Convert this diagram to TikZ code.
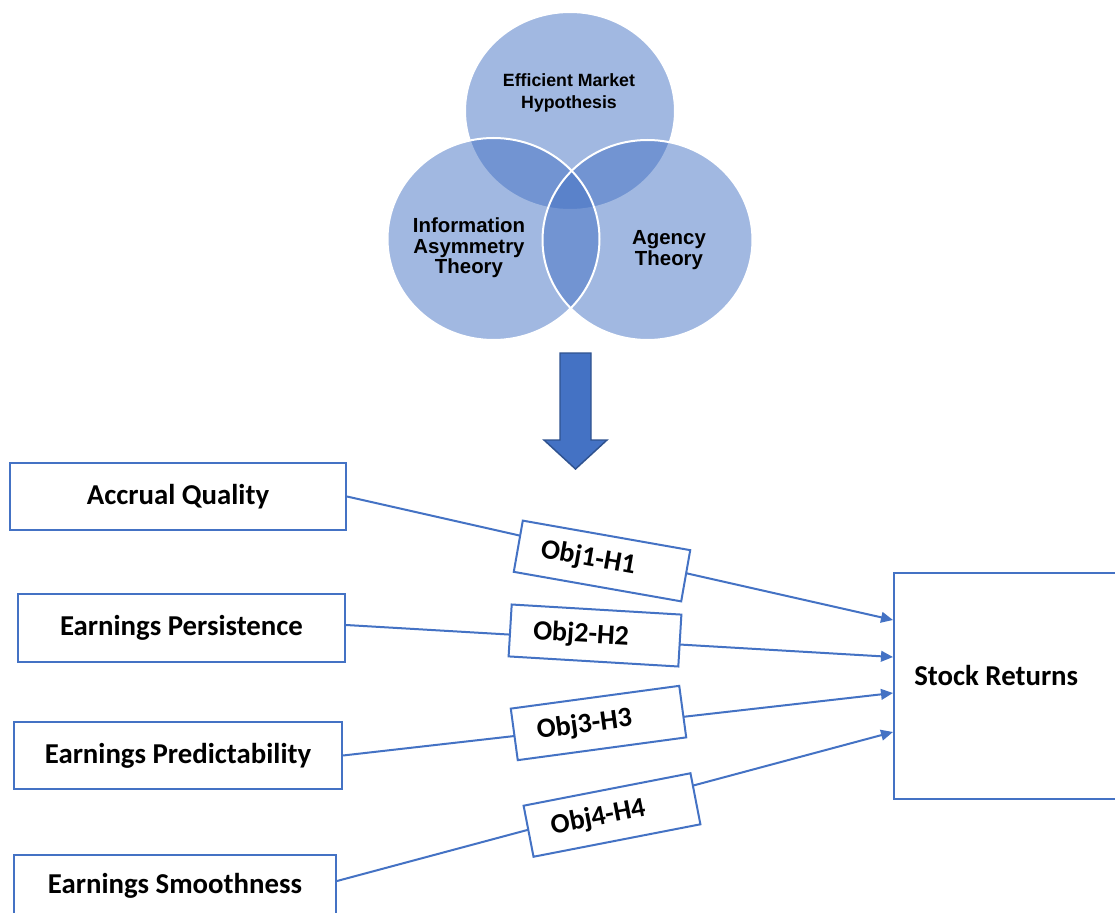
\documentclass[tikz,border=0pt]{standalone}
\usepackage{fontspec}
\setmainfont{Carlito}
\newfontfamily\vennfont{Liberation Sans}
\usetikzlibrary{arrows.meta}
\definecolor{obl}{HTML}{4472C4}
\definecolor{dbl}{HTML}{2F528F}
\begin{document}
\begin{tikzpicture}[x=0.75pt,y=-0.75pt,
  lbox/.style={draw=obl, line width=1.5pt, inner sep=0pt,
    font=\bfseries\fontsize{21.6}{26}\selectfont},
  objbox/.style={draw=obl, fill=white, line width=1.5pt, inner sep=0pt,
    minimum width=127.5pt, minimum height=39pt,
    font=\bfseries\fontsize{21}{25}\selectfont},
  conn/.style={draw=obl, line width=1.5pt, -{Triangle[length=9pt,width=8pt]}},
  vfill/.style={fill=obl, fill opacity=0.5},
  vline/.style={draw=white, line width=1.5pt},
  vtext/.style={align=center, inner sep=0pt, text=black}
]
\path[use as bounding box, fill=white] (0,0) rectangle (1115,913);

% Venn diagram
\fill[vfill] (570,111) ellipse [x radius=105, y radius=99];
\draw[vline] (570,111) ellipse [x radius=105, y radius=99];
\fill[vfill] (493.5,239) ellipse [x radius=106, y radius=101];
\fill[vfill] (647.5,240) ellipse [x radius=105, y radius=100];
\draw[vline] (493.5,239) ellipse [x radius=106, y radius=101];
\draw[vline] (647.5,240) ellipse [x radius=105, y radius=100];

\node[vtext, font=\vennfont\bfseries\fontsize{13.3}{16.5}\selectfont] (emh) at (569,93) {Efficient Market\\Hypothesis};
\node[vtext, font=\vennfont\bfseries\fontsize{15.3}{15.3}\selectfont] (iat) at (469,248) {Information\\Asymmetry\\Theory};
\node[vtext, font=\vennfont\bfseries\fontsize{15.3}{14}\selectfont] (agt) at (669,250) {Agency\\Theory};

% block arrow
\draw[fill=obl, draw=dbl, line width=1.1pt, line join=miter]
  (560,353) -- (591,353) -- (591,440) -- (607,440) -- (575.5,469) -- (544,440) -- (560,440) -- cycle;

% left boxes
\node[lbox, minimum width=252pt, minimum height=50.25pt] (b1) at (178,496.5) {Accrual Quality};
\node[lbox, minimum width=245.25pt, minimum height=51pt] (b2) at (181.5,628) {Earnings Persistence};
\node[lbox, minimum width=246pt, minimum height=50.25pt] (b3) at (178,755.5) {Earnings Predictability};
\node[lbox, minimum width=241.5pt, minimum height=46.5pt] (b4) at (175,886) {Earnings Smoothness};

% Stock returns
\node[draw=obl, line width=1.5pt, inner sep=0pt, minimum width=173.25pt, minimum height=169.5pt] (sr) at (1009.5,686) {};
\node[anchor=west, inner sep=0pt, font=\bfseries\fontsize{21.6}{26}\selectfont] (srt) at (914,675) {Stock Returns};

\coordinate (t1) at (893,620);
\coordinate (t2) at (893,657);
\coordinate (t3) at (893,693);
\coordinate (t4) at (893,732);

\draw[conn] (b1.east) -- (t1);
\draw[conn] ([yshift=2.25pt]b2.east) -- (t2);
\draw[conn] (b3.east) -- (t3);
\draw[conn] ([yshift=3.75pt]b4.east) -- (t4);

% objective boxes
\node[objbox, rotate=-10] (o1) at (602,561) {Obj1-H1\hspace*{21pt}};
\node[objbox, rotate=-3.4] (o2) at (595,635.5) {Obj2-H2\hspace*{21pt}};
\node[objbox, rotate=7.7] (o3) at (598.5,723) {Obj3-H3\hspace*{21pt}};
\node[objbox, rotate=11] (o4) at (612,815) {Obj4-H4\hspace*{21pt}};
\end{tikzpicture}
\end{document}
